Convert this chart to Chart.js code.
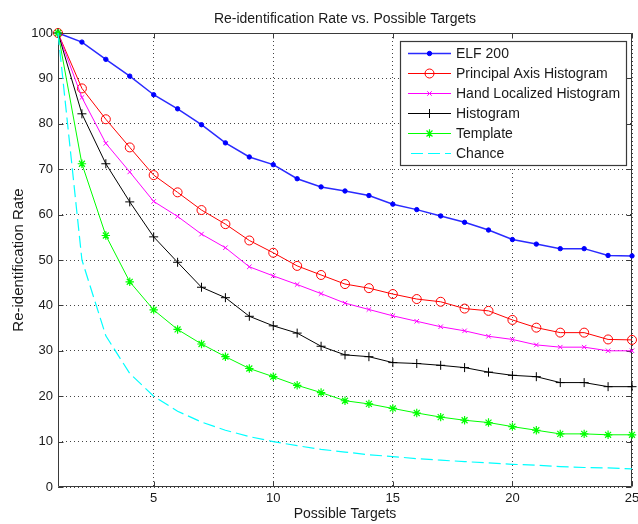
<!DOCTYPE html>
<html><head><meta charset="utf-8">
<script src="https://cdn.jsdelivr.net/npm/chart.js@4.4.0/dist/chart.umd.min.js"></script>
<style>html,body{margin:0;padding:0;background:#fff;}#wrap{width:638px;height:524px;}</style>
</head><body><div id="wrap"><canvas id="c" width="638" height="524"></canvas></div>
<script>
const targets = [1,2,3,4,5,6,7,8,9,10,11,12,13,14,15,16,17,18,19,20,21,22,23,24,25];
const elf200 = [100,98.0,94.2,90.5,86.4,83.3,79.8,75.8,72.7,71.0,67.9,66.1,65.2,64.2,62.3,61.1,59.7,58.3,56.6,54.5,53.5,52.5,52.5,51.0,50.9];
const principalAxis = [100,87.8,81.0,74.8,68.7,64.9,61.0,57.9,54.3,51.6,48.7,46.7,44.7,43.8,42.5,41.4,40.8,39.3,38.8,36.8,35.1,34.0,34.0,32.5,32.4];
const handLocalized = [100,85.8,75.7,69.4,62.9,59.6,55.7,52.7,48.5,46.5,44.6,42.6,40.5,39.1,37.7,36.5,35.3,34.4,33.2,32.5,31.3,30.8,30.8,30.0,30.0];
const histogram = [100,82.2,71.2,62.8,55.1,49.5,44.0,41.7,37.6,35.5,33.9,31.0,29.1,28.7,27.4,27.2,26.8,26.3,25.3,24.6,24.3,23.0,23.0,22.1,22.1];
const template = [100,71.2,55.4,45.2,39.0,34.7,31.5,28.7,26.1,24.3,22.4,20.8,19.0,18.3,17.3,16.3,15.4,14.7,14.2,13.3,12.5,11.7,11.7,11.5,11.5];
const chance = [100,50,33.3,25,20,16.7,14.3,12.5,11.1,10,9.1,8.3,7.7,7.1,6.7,6.25,5.9,5.6,5.3,5,4.8,4.5,4.3,4.2,4];
const seriesNames = ['ELF 200','Principal Axis Histogram','Hand Localized Histogram','Histogram','Template','Chance'];
const xTicks = [5,10,15,20,25];
const yTicks = [0,10,20,30,40,50,60,70,80,90,100];
const chartTitle = 'Re-identification Rate vs. Possible Targets';
const xTitle = 'Possible Targets';
const yTitle = 'Re-identification Rate';

const FONT = '"Liberation Sans", Arial, Helvetica, sans-serif';
const TXT = '#1a1a1a';

function pts(arr){ return arr.map((v,i)=>({x:targets[i], y:v})); }

const styles = [
  {borderColor:'#2a2aff', borderWidth:1.5, pointStyle:'circle', pointRadius:2.2, pointBackgroundColor:'#0000ff', pointBorderColor:'#0000ff', pointBorderWidth:1},
  {borderColor:'#ff0000', borderWidth:1, pointStyle:'circle', pointRadius:4.5, pointBackgroundColor:'rgba(0,0,0,0)', pointBorderColor:'#ff0000', pointBorderWidth:1},
  {borderColor:'#ff00ff', borderWidth:1, pointStyle:'crossRot', pointRadius:3.2, pointBackgroundColor:'#ff00ff', pointBorderColor:'#ff00ff', pointBorderWidth:1},
  {borderColor:'#000000', borderWidth:1, pointStyle:'cross', pointRadius:4.5, pointBackgroundColor:'#000000', pointBorderColor:'#000000', pointBorderWidth:1},
  {borderColor:'#00ff00', borderWidth:1, pointStyle:'star', pointRadius:4.2, pointBackgroundColor:'#00ff00', pointBorderColor:'#00ff00', pointBorderWidth:1.2},
  {borderColor:'#00ffff', borderWidth:1.2, borderDash:[12,5], pointStyle:false, pointRadius:0, pointBackgroundColor:'#00ffff', pointBorderColor:'#00ffff', pointBorderWidth:1}
];
const seriesData = [elf200, principalAxis, handLocalized, histogram, template, chance];

const datasets = seriesData.map((arr,i)=>Object.assign({
  label: seriesNames[i], data: pts(arr), tension:0, fill:false, clip:false,
  pointHoverRadius:0, order: 6-i
}, styles[i]));

const framePlugin = {
  id:'frame',
  beforeDatasetsDraw(chart){
    const {ctx, chartArea:a, scales:{x, y}} = chart;
    ctx.save();
    ctx.strokeStyle = '#3a3a3a';
    ctx.lineWidth = 1;
    ctx.beginPath();
    const L = Math.round(a.left)+0.5, R = Math.round(a.right)-0.5, T = Math.round(a.top)+0.5, B = Math.round(a.bottom)-0.5;
    ctx.rect(L, T, R-L, B-T);
    xTicks.forEach(v=>{
      const px = Math.round(x.getPixelForValue(v))+0.5;
      ctx.moveTo(px, B); ctx.lineTo(px, B-5);
      ctx.moveTo(px, T); ctx.lineTo(px, T+5);
    });
    yTicks.forEach(v=>{
      const py = Math.round(y.getPixelForValue(v))+0.5;
      ctx.moveTo(L, py); ctx.lineTo(L+5, py);
      ctx.moveTo(R, py); ctx.lineTo(R-5, py);
    });
    ctx.stroke();
    ctx.restore();
  },
  afterDraw(chart){
    const {ctx, chartArea:a} = chart;
    ctx.save();
    ctx.fillStyle = TXT;
    ctx.font = '14px ' + FONT;
    ctx.textAlign = 'center';
    ctx.textBaseline = 'alphabetic';
    ctx.fillText(chartTitle, (a.left+a.right)/2, 22.5);
    const bx = 400.5, by = 41.5, bw = 226, bh = 124;
    ctx.fillStyle = '#ffffff';
    ctx.fillRect(bx, by, bw, bh);
    ctx.strokeStyle = '#3a3a3a';
    ctx.lineWidth = 1.2;
    ctx.strokeRect(bx, by, bw, bh);
    chart.data.datasets.forEach((ds,i)=>{
      const yy = 53.5 + i*20;
      ctx.save();
      ctx.strokeStyle = ds.borderColor;
      ctx.lineWidth = ds.borderWidth;
      ctx.setLineDash(ds.borderDash || []);
      ctx.beginPath();
      ctx.moveTo(i===5?411:408, yy); ctx.lineTo(451, yy);
      ctx.stroke();
      ctx.setLineDash([]);
      if (ds.pointStyle) {
        ctx.fillStyle = ds.pointBackgroundColor;
        ctx.strokeStyle = ds.pointBorderColor;
        ctx.lineWidth = ds.pointBorderWidth;
        Chart.helpers.drawPoint(ctx, {pointStyle: ds.pointStyle, radius: ds.pointRadius, rotation:0, borderWidth: ds.pointBorderWidth}, 429.5, yy);
      }
      ctx.restore();
      ctx.fillStyle = TXT;
      ctx.font = '14px ' + FONT;
      ctx.textAlign = 'left';
      ctx.textBaseline = 'middle';
      ctx.fillText(ds.label, 456, yy+0.5);
    });
    ctx.restore();
  }
};

new Chart(document.getElementById('c'), {
  type:'line',
  data:{datasets},
  plugins:[framePlugin],
  options:{
    responsive:false, animation:false, devicePixelRatio:1,
    layout:{padding:{top:33, right:6, left:0, bottom:0}},
    plugins:{legend:{display:false}, title:{display:false}, tooltip:{enabled:false}},
    events:[],
    scales:{
      x:{
        type:'linear', min:1, max:25,
        afterBuildTicks(s){ s.ticks = xTicks.map(v=>({value:v})); },
        afterFit(s){ s.height = 37; s.paddingLeft = 0; s.paddingRight = 0; },
        grid:{color:'#444444', lineWidth:1, drawTicks:false},
        border:{display:false, dash:[1,3]},
        ticks:{color:TXT, font:{family:FONT, size:13}, padding:4, maxRotation:0, autoSkip:false},
        title:{display:true, text:xTitle, color:TXT, font:{family:FONT, size:14}, padding:{top:0, bottom:1}}
      },
      y:{
        type:'linear', min:0, max:100,
        afterBuildTicks(s){ s.ticks = yTicks.map(v=>({value:v})); },
        afterFit(s){ s.width = 58; s.paddingTop = 0; s.paddingBottom = 0; },
        grid:{color:'#444444', lineWidth:1, drawTicks:false},
        border:{display:false, dash:[1,3]},
        ticks:{color:TXT, font:{family:FONT, size:13}, padding:5, autoSkip:false},
        title:{display:true, text:yTitle, color:TXT, font:{family:FONT, size:15}, padding:{top:10, bottom:0}}
      }
    }
  }
});
</script></body></html>
